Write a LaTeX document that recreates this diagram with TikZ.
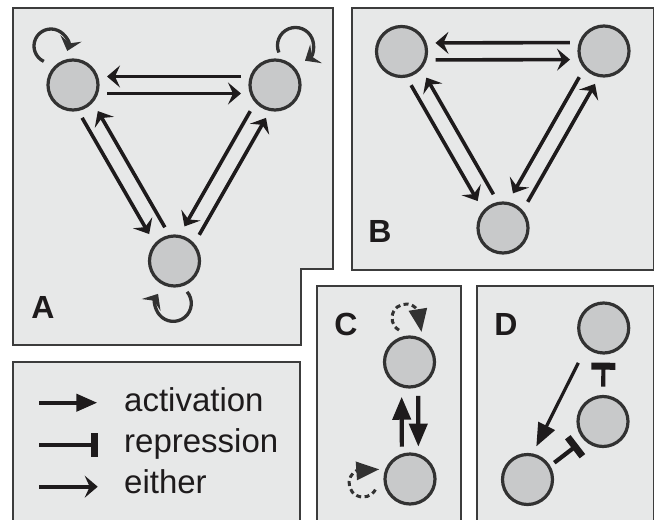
\documentclass[tikz,border=0pt]{standalone}
\usepackage{fontspec}
\setmainfont{Liberation Sans}
\usetikzlibrary{arrows.meta,calc}
\definecolor{panelbg}{RGB}{231,232,232}
\definecolor{nodefill}{RGB}{200,201,202}
\definecolor{ink}{RGB}{30,27,28}
\definecolor{ring}{RGB}{50,50,50}
\definecolor{frame}{RGB}{60,60,60}
\tikzset{
  panel/.style={fill=panelbg,draw=frame,line width=1.4pt},
  gene/.style={circle,fill=nodefill,draw=ring,line width=3.2pt,minimum size=50pt,inner sep=0pt},
  eithertip/.style={-{Stealth[length=13pt,width=22pt,inset=5pt]}},
  either/.style={draw=ink,line width=3.6pt,eithertip},
  loopy/.style={draw=ring,line width=3.3pt,eithertip},
  act/.style={draw=ink,line width=4.2pt,-{Triangle[length=23pt,width=18pt]}},
  rep/.style={draw=ink,line width=4.2pt,-{Bar[width=24pt,line width=7pt]}},
  dashloop/.style={draw=ring,line width=3pt,dash pattern=on 5pt off 3.5pt,-{Triangle[length=23pt,width=18pt]}},
  lab/.style={font=\bfseries\fontsize{32}{32}\selectfont,text=ink,inner sep=0pt},
  legtext/.style={font=\fontsize{33}{33}\selectfont,text=ink,inner sep=0pt,anchor=base west}
}
\newcommand\offarrow[5][]{\draw[#2,#1] ($(#3.center)!#5!-90:(#4.center)$) -- ($(#4.center)!#5!90:(#3.center)$);}
\begin{document}
\begin{tikzpicture}[x=1pt,y=1pt]
\useasboundingbox (0,0) rectangle (655,-519);
\clip (0,0) rectangle (655,-519);
% panels
\path[panel] (13,-8) -- (333,-8) -- (333,-269) -- (301,-269) -- (301,-345) -- (13,-345) -- cycle;
\path[panel] (352,-8) rectangle (653.5,-270);
\path[panel] (13,-362) rectangle (300,-530);
\path[panel] (317,-286) rectangle (461,-530);
\path[panel] (477,-286) rectangle (653.5,-530);
% labels
\node[lab] (labA) at (43,-307) {A};
\node[lab] (labB) at (380,-231) {B};
\node[lab] (labC) at (346,-324) {C};
\node[lab] (labD) at (506,-324) {D};
% panel A
\node[gene] (a1) at (73,-85) {};
\node[gene] (a2) at (275,-85) {};
\node[gene] (a3) at (174.5,-261) {};
\offarrow[shorten <=34pt,shorten >=34pt]{either}{a1}{a2}{8.5pt}
\offarrow[shorten <=34pt,shorten >=34pt]{either}{a2}{a1}{8.5pt}
\offarrow[shorten <=33pt,shorten >=36pt]{either}{a1}{a3}{8.5pt}
\offarrow[shorten <=34pt,shorten >=35pt]{either}{a3}{a1}{8.5pt}
\offarrow[shorten <=35pt,shorten >=35pt]{either}{a2}{a3}{8.5pt}
\offarrow[shorten <=35pt,shorten >=33pt]{either}{a3}{a2}{8.5pt}
\draw[loopy] ([shift={(-29.2,23.6)}]a1.center) arc[start angle=245,end angle=-17,radius=17];
\draw[loopy] ([shift={(3.9,32.5)}]a2.center) arc[start angle=203,end angle=-58,radius=18];
\draw[loopy] ([shift={(12.6,-30.8)}]a3.center) arc[start angle=40,end angle=-212,radius=18];
% panel B
\node[gene] (b1) at (401.5,-51.5) {};
\node[gene] (b2) at (604,-51) {};
\node[gene] (b3) at (503,-228) {};
\offarrow[shorten <=34pt,shorten >=34pt]{either}{b1}{b2}{8.5pt}
\offarrow[shorten <=34pt,shorten >=34pt]{either}{b2}{b1}{8.5pt}
\offarrow[shorten <=34pt,shorten >=36pt]{either}{b1}{b3}{8.5pt}
\offarrow[shorten <=34pt,shorten >=35pt]{either}{b3}{b1}{8.5pt}
\offarrow[shorten <=35pt,shorten >=35pt]{either}{b2}{b3}{8.5pt}
\offarrow[shorten <=35pt,shorten >=33pt]{either}{b3}{b2}{8.5pt}
% panel C
\node[gene] (c1) at (409.5,-362) {};
\node[gene] (c2) at (410,-479) {};
\offarrow[shorten <=32.3pt,shorten >=34.7pt]{act}{c2}{c1}{-8pt}
\offarrow[shorten <=34pt,shorten >=32.3pt]{act}{c1}{c2}{-8.5pt}
\draw[dashloop] ([shift={(-10.5,31.9)}]c1.center) arc[start angle=240,end angle=30,radius=14] -- ([shift={(12,30)}]c1.center);
\draw[dashloop] ([shift={(-34.6,-10.6)}]c2.center) arc[start angle=-28,end angle=-240,radius=14] -- ([shift={(-30.7,9.7)}]c2.center);
% panel D
\node[gene] (d1) at (603.7,-328) {};
\node[gene] (d2) at (603,-421.5) {};
\node[gene] (d3) at (527.5,-479.5) {};
\offarrow[shorten <=42.5pt,shorten >=33.5pt,line width=3.2pt]{act}{d1}{d3}{7pt}
\offarrow[shorten <=34.8pt,shorten >=34.7pt]{rep}{d2}{d1}{0pt}
\offarrow[shorten <=31.5pt,shorten >=34pt]{rep}{d3}{d2}{3pt}
% legend
\coordinate (la1) at (39,-402.7); \coordinate (la2) at (97.3,-402.7);
\coordinate (lr1) at (39,-445);   \coordinate (lr2) at (98.3,-445);
\coordinate (le1) at (39,-486.7); \coordinate (le2) at (97.7,-486.7);
\draw[act,-{Triangle[length=21pt,width=17pt]}] (la1) -- (la2);
\draw[rep] (lr1) -- (lr2);
\draw[either,line width=4pt] (le1) -- (le2);
\node[legtext] (t1) at (124,-411.7) {activation};
\node[legtext] (t2) at (124,-452.7) {repression};
\node[legtext] (t3) at (124,-493.3) {either};
\end{tikzpicture}
\end{document}
